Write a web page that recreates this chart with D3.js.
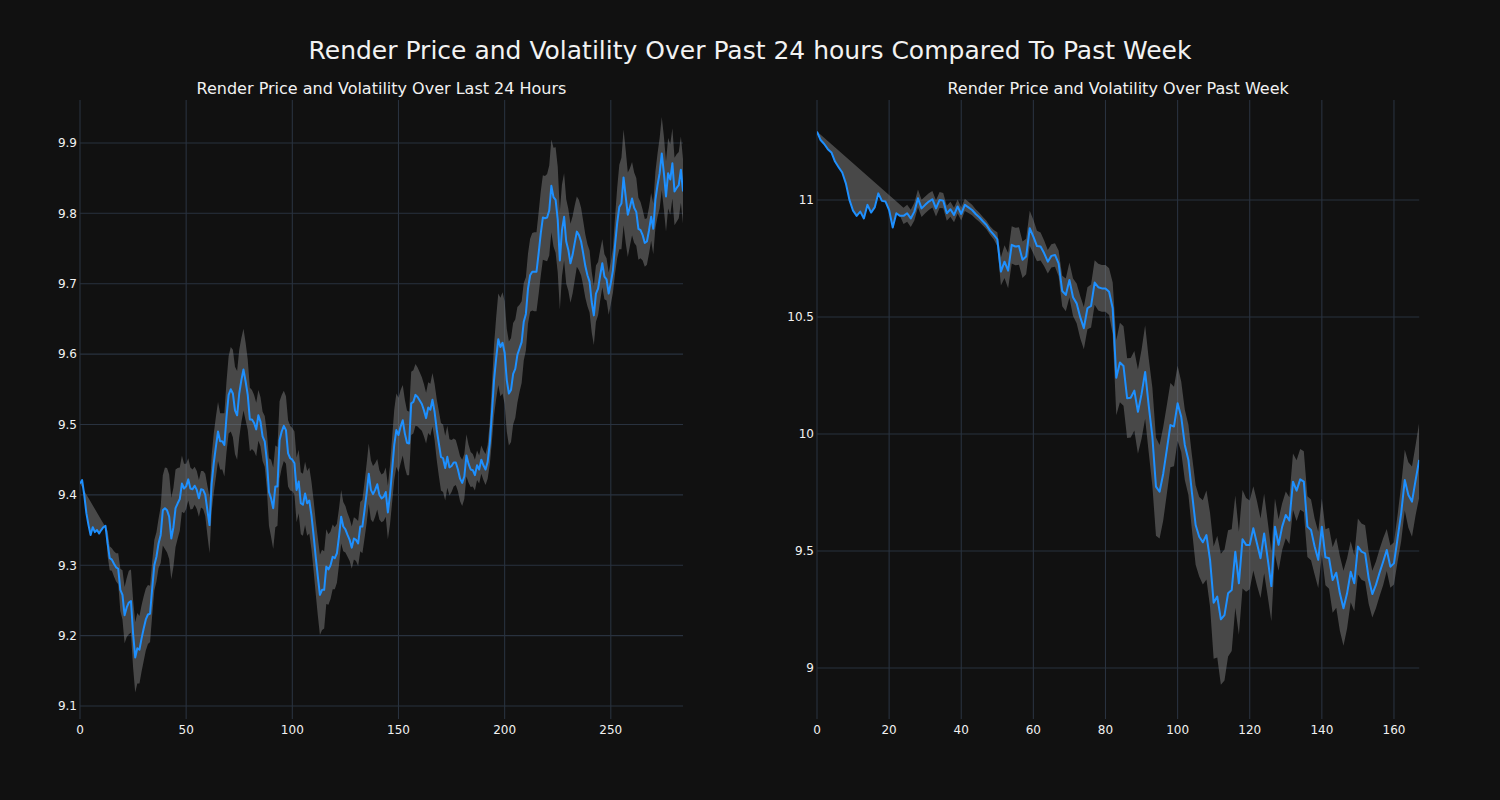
<!DOCTYPE html>
<html><head><meta charset="utf-8">
<script src="https://cdn.jsdelivr.net/npm/d3@7"></script>
<style>
body{margin:0;background:#111111;}
text{font-family:"DejaVu Sans",sans-serif;fill:#f2f2f2;}
</style>
</head><body>
<svg id="chart" width="1500" height="800"></svg>
<script>
// ---------- DATA ----------
const mainTitle = "Render Price and Volatility Over Past 24 hours Compared To Past Week";
const dayTitle = "Render Price and Volatility Over Last 24 Hours";
const weekTitle = "Render Price and Volatility Over Past Week";

const dayPrice = [
9.416,9.421,9.400,9.374,9.357,9.343,9.354,9.347,9.350,9.345,
9.350,9.354,9.356,9.331,9.310,9.308,9.302,9.297,9.295,9.265,
9.258,9.229,9.240,9.247,9.249,9.203,9.169,9.182,9.180,9.196,
9.210,9.223,9.230,9.231,9.267,9.300,9.312,9.331,9.343,9.378,
9.381,9.378,9.369,9.338,9.354,9.381,9.388,9.394,9.416,9.409,
9.412,9.422,9.409,9.408,9.413,9.407,9.395,9.408,9.407,9.400,
9.378,9.357,9.416,9.445,9.468,9.490,9.476,9.476,9.471,9.511,
9.542,9.550,9.544,9.520,9.513,9.544,9.563,9.578,9.561,9.542,
9.507,9.507,9.502,9.493,9.513,9.504,9.483,9.476,9.449,9.404,
9.395,9.381,9.412,9.412,9.478,9.490,9.498,9.492,9.459,9.452,
9.450,9.445,9.407,9.419,9.388,9.386,9.402,9.388,9.392,9.371,
9.343,9.312,9.284,9.258,9.265,9.265,9.298,9.294,9.300,9.312,
9.310,9.317,9.341,9.369,9.355,9.351,9.343,9.336,9.325,9.338,
9.336,9.331,9.355,9.355,9.378,9.402,9.430,9.407,9.401,9.407,
9.415,9.400,9.395,9.397,9.404,9.375,9.400,9.435,9.471,9.492,
9.485,9.497,9.506,9.487,9.474,9.473,9.530,9.532,9.542,9.539,
9.534,9.529,9.520,9.509,9.524,9.521,9.535,9.518,9.493,9.473,
9.454,9.452,9.438,9.454,9.439,9.441,9.446,9.446,9.436,9.423,
9.417,9.426,9.456,9.444,9.436,9.435,9.428,9.442,9.436,9.450,
9.442,9.436,9.447,9.473,9.516,9.563,9.594,9.621,9.610,9.616,
9.602,9.563,9.544,9.549,9.572,9.579,9.599,9.608,9.617,9.646,
9.657,9.693,9.712,9.717,9.717,9.717,9.743,9.771,9.794,9.793,
9.794,9.804,9.839,9.823,9.819,9.791,9.733,9.776,9.795,9.760,
9.748,9.729,9.741,9.758,9.774,9.769,9.760,9.743,9.725,9.712,
9.703,9.674,9.655,9.686,9.693,9.712,9.729,9.710,9.706,9.686,
9.701,9.719,9.755,9.786,9.809,9.814,9.851,9.824,9.798,9.809,
9.821,9.808,9.802,9.778,9.776,9.769,9.758,9.760,9.776,9.795,
9.778,9.819,9.840,9.857,9.885,9.857,9.824,9.857,9.848,9.871,
9.831,9.836,9.840,9.862,9.831
];

const dayVol = [
null,null,null,null,null,null,null,null,null,null,
null,null,null,0.018,0.017,0.016,0.018,0.020,0.022,0.030,
0.035,0.040,0.042,0.045,0.045,0.048,0.050,0.050,0.048,0.047,
0.046,0.044,0.042,0.040,0.038,0.036,0.035,0.035,0.040,0.050,
0.058,0.060,0.060,0.058,0.056,0.055,0.050,0.045,0.040,0.035,
0.032,0.030,0.030,0.028,0.027,0.027,0.026,0.026,0.027,0.030,
0.035,0.040,0.040,0.042,0.043,0.042,0.040,0.040,0.045,0.050,
0.055,0.060,0.062,0.062,0.063,0.062,0.060,0.058,0.055,0.050,
0.045,0.042,0.040,0.038,0.036,0.035,0.035,0.036,0.040,0.048,
0.055,0.058,0.058,0.056,0.055,0.052,0.050,0.048,0.047,0.046,
0.045,0.045,0.046,0.045,0.044,0.044,0.045,0.046,0.047,0.048,
0.050,0.052,0.055,0.057,0.057,0.055,0.053,0.050,0.048,0.046,
0.044,0.042,0.040,0.038,0.035,0.033,0.031,0.030,0.030,0.030,
0.030,0.032,0.035,0.038,0.040,0.042,0.043,0.042,0.040,0.038,
0.036,0.035,0.034,0.034,0.035,0.038,0.042,0.046,0.050,0.052,
0.053,0.052,0.050,0.048,0.046,0.045,0.045,0.045,0.044,0.042,
0.040,0.038,0.037,0.036,0.036,0.037,0.038,0.040,0.043,0.046,
0.048,0.048,0.046,0.044,0.040,0.037,0.034,0.032,0.031,0.032,
0.033,0.032,0.030,0.027,0.025,0.023,0.022,0.021,0.020,0.020,
0.021,0.022,0.024,0.030,0.040,0.050,0.058,0.065,0.070,0.072,
0.073,0.073,0.074,0.074,0.072,0.070,0.068,0.062,0.058,0.055,
0.052,0.050,0.052,0.055,0.056,0.056,0.058,0.060,0.060,0.060,
0.062,0.064,0.066,0.070,0.075,0.075,0.070,0.065,0.062,0.060,
0.058,0.056,0.055,0.053,0.050,0.050,0.048,0.046,0.045,0.044,
0.044,0.043,0.042,0.040,0.038,0.036,0.034,0.032,0.030,0.030,
0.030,0.032,0.040,0.050,0.060,0.065,0.068,0.066,0.060,0.055,
0.052,0.050,0.048,0.044,0.040,0.036,0.034,0.033,0.033,0.034,
0.036,0.040,0.045,0.050,0.052,0.052,0.050,0.050,0.050,0.050,
0.048,0.048,0.047,0.047,0.046
];

const weekPrice = [
11.292,11.256,11.239,11.217,11.203,11.164,11.140,11.117,11.071,11.000,
10.954,10.932,10.950,10.921,10.979,10.946,10.968,11.028,10.996,10.993,
10.957,10.882,10.943,10.932,10.932,10.943,10.921,10.950,11.007,10.964,
10.979,10.993,11.003,10.964,11.000,10.997,10.943,10.960,10.936,10.972,
10.940,10.979,10.968,10.957,10.940,10.926,10.909,10.893,10.869,10.852,
10.832,10.694,10.736,10.698,10.808,10.801,10.803,10.744,10.758,10.879,
10.843,10.803,10.801,10.772,10.736,10.761,10.765,10.729,10.611,10.594,
10.658,10.584,10.558,10.499,10.452,10.537,10.547,10.647,10.627,10.622,
10.622,10.608,10.537,10.240,10.305,10.290,10.153,10.155,10.185,10.095,
10.170,10.265,10.120,9.989,9.775,9.753,9.829,9.932,10.038,10.032,
10.131,10.074,9.953,9.889,9.746,9.611,9.561,9.537,9.568,9.462,
9.279,9.305,9.208,9.226,9.319,9.333,9.497,9.362,9.550,9.526,
9.526,9.597,9.533,9.469,9.575,9.465,9.350,9.604,9.526,9.604,
9.654,9.630,9.796,9.758,9.806,9.796,9.604,9.590,9.519,9.462,
9.604,9.473,9.469,9.376,9.407,9.319,9.255,9.319,9.411,9.362,
9.519,9.497,9.490,9.383,9.316,9.355,9.407,9.454,9.504,9.433,
9.447,9.554,9.661,9.803,9.739,9.711,9.803,9.889
];

const weekVol = [
null,null,null,null,null,null,null,null,null,null,
null,null,null,null,null,null,null,null,null,null,
null,null,null,null,0.035,0.036,0.037,0.038,0.038,0.037,
0.036,0.036,0.035,0.035,0.034,0.033,0.032,0.032,0.031,0.030,
0.028,0.026,0.024,0.022,0.020,0.019,0.018,0.018,0.018,0.020,
0.030,0.060,0.070,0.075,0.080,0.080,0.080,0.078,0.076,0.075,
0.072,0.065,0.060,0.055,0.050,0.050,0.050,0.055,0.065,0.070,
0.075,0.080,0.085,0.090,0.090,0.090,0.092,0.095,0.100,0.100,
0.100,0.100,0.110,0.160,0.170,0.170,0.170,0.170,0.170,0.180,
0.190,0.200,0.200,0.210,0.210,0.200,0.200,0.190,0.180,0.170,
0.160,0.150,0.150,0.150,0.160,0.170,0.170,0.180,0.190,0.200,
0.240,0.260,0.280,0.280,0.270,0.260,0.240,0.220,0.210,0.200,
0.190,0.180,0.180,0.170,0.170,0.160,0.150,0.120,0.110,0.100,
0.100,0.100,0.120,0.130,0.130,0.130,0.130,0.130,0.120,0.120,
0.120,0.120,0.130,0.140,0.150,0.160,0.160,0.150,0.130,0.120,
0.120,0.120,0.120,0.110,0.100,0.100,0.100,0.100,0.090,0.090,
0.090,0.100,0.120,0.130,0.140,0.150,0.150,0.160
];

const dayYTicks = [9.1, 9.2, 9.3, 9.4, 9.5, 9.6, 9.7, 9.8, 9.9];
const dayXTicks = [0, 50, 100, 150, 200, 250];
const weekYTicks = [9, 9.5, 10, 10.5, 11];
const weekXTicks = [0, 20, 40, 60, 80, 100, 120, 140, 160];

// ---------- DRAW ----------
const svg = d3.select("#chart");
svg.append("rect").attr("width", 1500).attr("height", 800).attr("fill", "#111111");

svg.append("text").attr("x", 750).attr("y", 58.5).attr("text-anchor", "middle")
  .style("font-size", "25px").text(mainTitle);

const gridColor = "#29323f";

function panel(cfg) {
  const {price, vol, title, xTicks, yTicks, left, right, yDomain, xDomain, id} = cfg;
  const top = 100, bottom = 719;
  const x = d3.scaleLinear().domain(xDomain).range([left, right]);
  const y = d3.scaleLinear().domain(yDomain).range([bottom, top]);
  const g = svg.append("g");

  g.append("defs").append("clipPath").attr("id", id)
    .append("rect").attr("x", left).attr("y", top).attr("width", right - left).attr("height", bottom - top);

  // grid
  g.selectAll(".vg").data(xTicks).join("line")
    .attr("x1", d => x(d)).attr("x2", d => x(d)).attr("y1", top).attr("y2", bottom)
    .attr("stroke", gridColor).attr("stroke-width", 1.1);
  g.selectAll(".hg").data(yTicks).join("line")
    .attr("x1", left).attr("x2", right).attr("y1", d => y(d)).attr("y2", d => y(d))
    .attr("stroke", gridColor).attr("stroke-width", 1.1);

  // tick labels
  g.selectAll(".xl").data(xTicks).join("text")
    .attr("x", d => x(d)).attr("y", 733.5).attr("text-anchor", "middle")
    .style("font-size", "12px").text(d => d);
  g.selectAll(".yl").data(yTicks).join("text")
    .attr("x", left - 3).attr("y", d => y(d)).attr("dy", "0.36em").attr("text-anchor", "end")
    .style("font-size", "12px").text(d => d3.format("~g")(d));

  // subtitle
  g.append("text").attr("x", (left + right) / 2).attr("y", 94).attr("text-anchor", "middle")
    .style("font-size", "16px").text(title);

  // band polygon
  const start = vol.findIndex(v => v !== null);
  const pts = [[0, price[0]]];
  for (let i = start; i < price.length; i++) pts.push([i, price[i] + vol[i]]);
  for (let i = price.length - 1; i >= start; i--) pts.push([i, price[i] - vol[i]]);
  for (let i = start - 1; i >= 0; i--) pts.push([i, price[i]]);
  const bandLine = d3.line().x(d => x(d[0])).y(d => y(d[1]));
  g.append("path").attr("d", bandLine(pts) + "Z")
    .attr("fill", "#808080").attr("fill-opacity", 0.5)
    .attr("clip-path", `url(#${id})`);

  // price line
  const line = d3.line().x((d, i) => x(i)).y(d => y(d));
  g.append("path").attr("d", line(price))
    .attr("fill", "none").attr("stroke", "#1e90ff").attr("stroke-width", 2)
    .attr("stroke-linejoin", "round")
    .attr("clip-path", `url(#${id})`);
}

panel({id: "clipDay", price: dayPrice, vol: dayVol, title: dayTitle,
  xTicks: dayXTicks, yTicks: dayYTicks, left: 80, right: 683,
  xDomain: [0, 284], yDomain: [9.0815, 9.961]});
panel({id: "clipWeek", price: weekPrice, vol: weekVol, title: weekTitle,
  xTicks: weekXTicks, yTicks: weekYTicks, left: 817, right: 1419.2,
  xDomain: [0, 167], yDomain: [8.782, 11.427]});
</script>
</body></html>
